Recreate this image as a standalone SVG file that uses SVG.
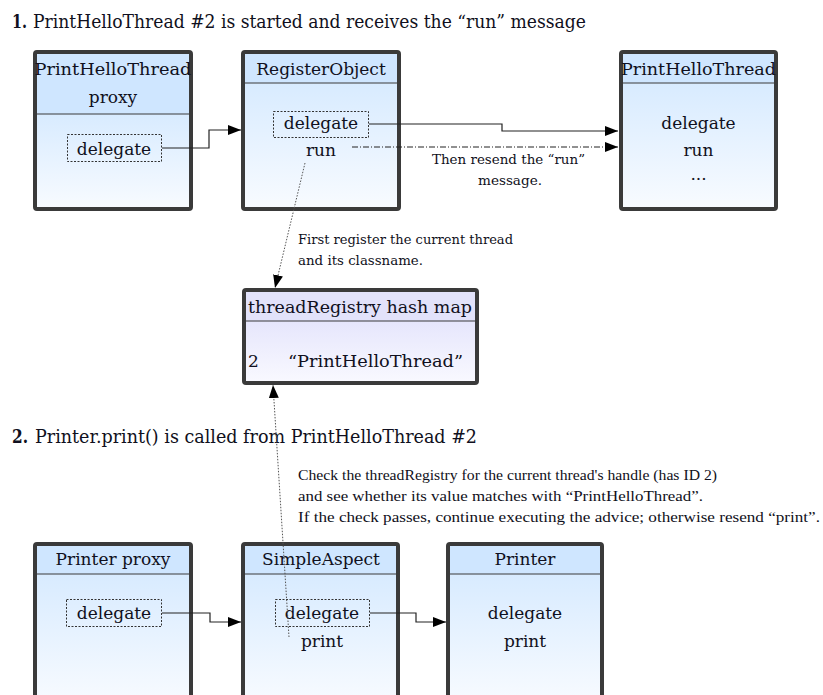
<svg xmlns="http://www.w3.org/2000/svg" width="823" height="695" viewBox="0 0 823 695">
<style>
.t{font-family:"DejaVu Serif","Liberation Serif",serif;font-size:17px;fill:#101020}
.c{text-anchor:middle}
.h{font-family:"DejaVu Serif","Liberation Serif",serif;font-size:18px;fill:#101020}
.b{font-weight:bold}
.s{font-family:"DejaVu Serif","Liberation Serif",serif;font-size:13px;fill:#101020}
.k{font-family:"Liberation Serif",serif;font-size:14.5px;fill:#101020}
.frame{fill:none;stroke:#3a3a3a;stroke-width:4}
.sep{stroke:#3a3a3a;stroke-width:1}
.hdr{fill:#cfe6ff}
.body{fill:url(#g1)}
.rhdr{fill:#e2e2fa}
.rbody{fill:url(#g2)}
.dash{fill:none;stroke:#333;stroke-width:1;stroke-dasharray:2 1.5}
.conn{fill:none;stroke:#222;stroke-width:1.2}
.dd{fill:none;stroke:#222;stroke-width:1;stroke-dasharray:6 2 1 2}
.dot{fill:none;stroke:#555;stroke-width:1;stroke-dasharray:1.5 1.5}
</style>
<defs>
<linearGradient id="g1" x1="0" y1="0" x2="0" y2="1">
<stop offset="0" stop-color="#d8ebff"/>
<stop offset="1" stop-color="#f8fbff"/>
</linearGradient>
<linearGradient id="g2" x1="0" y1="0" x2="0" y2="1">
<stop offset="0" stop-color="#e6e6fc"/>
<stop offset="1" stop-color="#f9f9ff"/>
</linearGradient>
<marker id="ah" markerWidth="14" markerHeight="12" refX="13" refY="5" orient="auto" markerUnits="userSpaceOnUse">
<path d="M0,0 L13,5 L0,10 Z" fill="#000"/>
</marker>
</defs>
<rect width="823" height="695" fill="#fff"/>

<text class="h b" x="12" y="28" textLength="15" lengthAdjust="spacingAndGlyphs">1.</text>
<text class="h" x="33" y="28" textLength="553" lengthAdjust="spacingAndGlyphs">PrintHelloThread #2 is started and receives the “run” message</text>

<g id="printHelloThreadProxy">
<rect class="hdr" x="35" y="52" width="156" height="62"/>
<rect class="body" x="35" y="114" width="156" height="95"/>
<line class="sep" x1="35" y1="114" x2="191" y2="114"/>
<rect class="frame" x="35" y="52" width="156" height="157" rx="2"/>
<text class="t c" x="113" y="75" textLength="157" lengthAdjust="spacingAndGlyphs">PrintHelloThread</text>
<text class="t c" x="113" y="103">proxy</text>
<rect class="dash" x="67.5" y="134.5" width="94" height="27"/>
<text class="t c" x="114" y="155">delegate</text>
</g>

<g id="registerObject">
<rect class="hdr" x="243" y="52" width="156" height="31"/>
<rect class="body" x="243" y="83" width="156" height="126"/>
<line class="sep" x1="243" y1="83" x2="399" y2="83"/>
<rect class="frame" x="243" y="52" width="156" height="157" rx="2"/>
<text class="t c" x="321" y="75">RegisterObject</text>
<rect class="dash" x="273.5" y="111.5" width="95" height="26"/>
<text class="t c" x="321" y="129">delegate</text>
<text class="t c" x="321" y="156">run</text>
</g>

<g id="printHelloThread">
<rect class="hdr" x="621" y="52" width="155" height="31"/>
<rect class="body" x="621" y="83" width="155" height="126"/>
<line class="sep" x1="621" y1="83" x2="776" y2="83"/>
<rect class="frame" x="621" y="52" width="155" height="157" rx="2"/>
<text class="t c" x="698.5" y="75" textLength="155" lengthAdjust="spacingAndGlyphs">PrintHelloThread</text>
<text class="t c" x="698.5" y="129">delegate</text>
<text class="t c" x="698.5" y="156">run</text>
<text class="t c" x="698.5" y="180">...</text>
</g>

<g id="threadRegistry">
<rect class="rhdr" x="244" y="290" width="233" height="31"/>
<rect class="rbody" x="244" y="321" width="233" height="62"/>
<line class="sep" x1="244" y1="321" x2="477" y2="321"/>
<rect class="frame" x="244" y="290" width="233" height="93" rx="2"/>
<text class="t" x="248" y="313" textLength="224" lengthAdjust="spacingAndGlyphs">threadRegistry hash map</text>
<text class="t" x="248" y="367">2</text>
<text class="t" x="288" y="367" textLength="175" lengthAdjust="spacingAndGlyphs">“PrintHelloThread”</text>
</g>

<text class="h b" x="12" y="443" textLength="16" lengthAdjust="spacingAndGlyphs">2.</text>
<text class="h" x="35" y="443" textLength="442" lengthAdjust="spacingAndGlyphs">Printer.print() is called from PrintHelloThread #2</text>

<g id="printerProxy">
<rect class="hdr" x="35" y="544" width="156" height="30"/>
<rect class="body" x="35" y="574" width="156" height="130"/>
<line class="sep" x1="35" y1="574" x2="191" y2="574"/>
<rect class="frame" x="35" y="544" width="156" height="170" rx="2"/>
<text class="t c" x="113" y="565">Printer proxy</text>
<rect class="dash" x="66.5" y="599.5" width="95" height="27"/>
<text class="t c" x="114" y="619">delegate</text>
</g>

<g id="simpleAspect">
<rect class="hdr" x="243" y="544" width="155" height="30"/>
<rect class="body" x="243" y="574" width="155" height="130"/>
<line class="sep" x1="243" y1="574" x2="398" y2="574"/>
<rect class="frame" x="243" y="544" width="155" height="170" rx="2"/>
<text class="t c" x="321" y="565">SimpleAspect</text>
<rect class="dash" x="275.5" y="599.5" width="94" height="27"/>
<text class="t c" x="322" y="619">delegate</text>
<text class="t c" x="322" y="647">print</text>
</g>

<g id="printer">
<rect class="hdr" x="448" y="544" width="154" height="30"/>
<rect class="body" x="448" y="574" width="154" height="130"/>
<line class="sep" x1="448" y1="574" x2="602" y2="574"/>
<rect class="frame" x="448" y="544" width="154" height="170" rx="2"/>
<text class="t c" x="525" y="565">Printer</text>
<text class="t c" x="525" y="619">delegate</text>
<text class="t c" x="525" y="647">print</text>
</g>

<g id="connectors">
<path class="conn" d="M162,148 H209 V130 H241" marker-end="url(#ah)"/>
<path class="conn" d="M369,124 H502 V131 H618" marker-end="url(#ah)"/>
<path class="dd" d="M352,147 H618" marker-end="url(#ah)"/>
<path class="dot" d="M305,163 L275,288" marker-end="url(#ah)"/>
<path class="dot" d="M289,637 L273,385" marker-end="url(#ah)"/>
<path class="conn" d="M162,613 H210 V622 H241" marker-end="url(#ah)"/>
<path class="conn" d="M370,613 H416 V622 H446" marker-end="url(#ah)"/>
</g>

<g id="labels">
<text class="s" x="432" y="164" textLength="153" lengthAdjust="spacingAndGlyphs">Then resend the “run”</text>
<text class="s" x="478" y="185" textLength="64" lengthAdjust="spacingAndGlyphs">message.</text>
<text class="s" x="298" y="244" textLength="215" lengthAdjust="spacingAndGlyphs">First register the current thread</text>
<text class="s" x="298" y="265" textLength="125" lengthAdjust="spacingAndGlyphs">and its classname.</text>
<text class="k" x="298" y="480" textLength="419" lengthAdjust="spacingAndGlyphs">Check the threadRegistry for the current thread's handle (has ID 2)</text>
<text class="k" x="298" y="501" textLength="405" lengthAdjust="spacingAndGlyphs">and see whether its value matches with “PrintHelloThread”.</text>
<text class="k" x="298" y="522" textLength="522" lengthAdjust="spacingAndGlyphs">If the check passes, continue executing the advice; otherwise resend “print”.</text>
</g>
</svg>
